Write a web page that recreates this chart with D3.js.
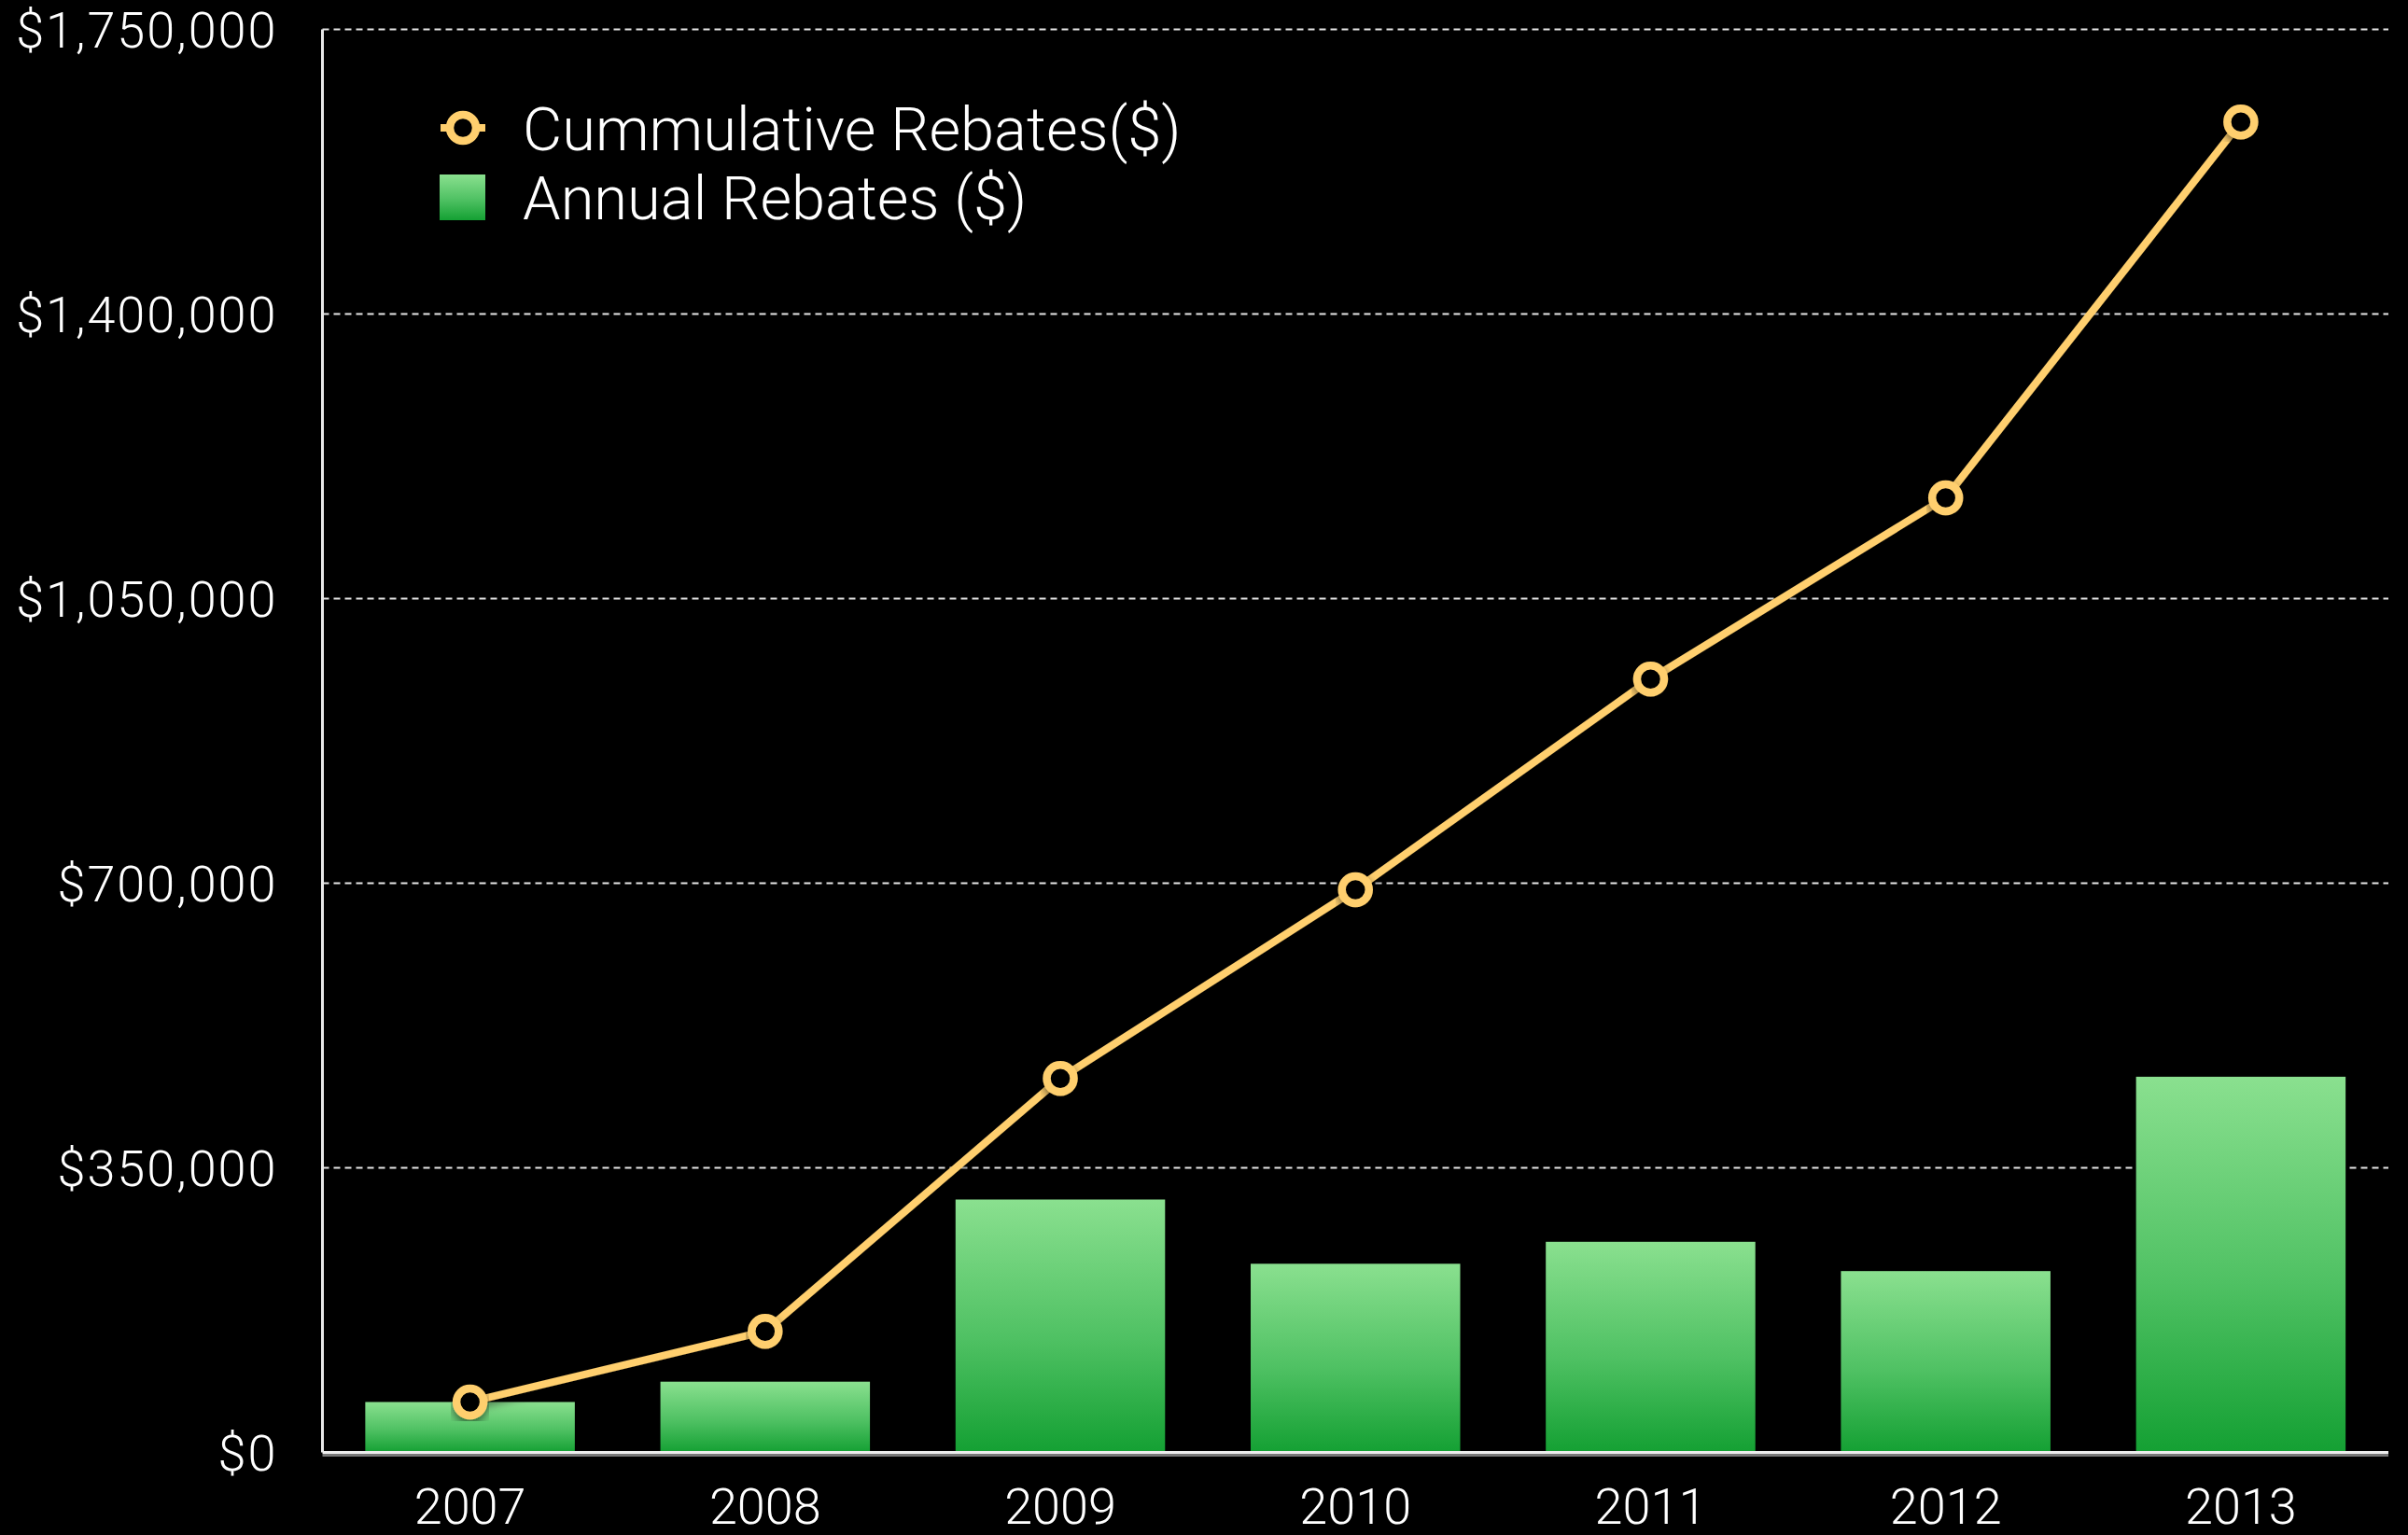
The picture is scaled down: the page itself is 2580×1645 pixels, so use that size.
<!DOCTYPE html>
<html>
<head>
<meta charset="utf-8">
<script src="https://cdn.jsdelivr.net/npm/d3@7"></script>
<style>
  html, body { margin: 0; padding: 0; background: #000; }
  svg { display: block; }
  text { font-family: Roboto, "Helvetica Neue", "Liberation Sans", sans-serif; font-weight: 300; fill: #fff; }
</style>
</head>
<body>
<script>
// ---- data ----
const years = ["2007", "2008", "2009", "2010", "2011", "2012", "2013"];
const annualRebates = [62000, 87000, 311000, 232000, 259000, 223000, 462000];
const cumulativeRebates = [62000, 149000, 460000, 692000, 951000, 1174000, 1636000];
const yTicks = [0, 350000, 700000, 1050000, 1400000, 1750000];
const legendLabels = ["Cummulative Rebates($)", "Annual Rebates ($)"];

// ---- layout ----
const W = 2580, H = 1645;
const margin = { left: 345.5, right: 21, top: 31.5, bottom: 88.5 };
const innerW = W - margin.left - margin.right;
const innerH = H - margin.top - margin.bottom;

const svg = d3.select("body").append("svg").attr("width", W).attr("height", H);
svg.append("rect").attr("width", W).attr("height", H).attr("fill", "#000");

const defs = svg.append("defs");
const grad = defs.append("linearGradient").attr("id", "barGrad")
  .attr("x1", 0).attr("y1", 0).attr("x2", 0).attr("y2", 1);
grad.append("stop").attr("offset", "0%").attr("stop-color", "#8ae08f");
grad.append("stop").attr("offset", "55%").attr("stop-color", "#4fc163");
grad.append("stop").attr("offset", "100%").attr("stop-color", "#14a033");

const shadow = defs.append("filter").attr("id", "shadow")
  .attr("x", "-20%").attr("y", "-20%").attr("width", "140%").attr("height", "140%");
shadow.append("feDropShadow").attr("dx", 0).attr("dy", 4).attr("stdDeviation", 5)
  .attr("flood-color", "#000").attr("flood-opacity", 0.55);

const g = svg.append("g").attr("transform", `translate(${margin.left},${margin.top})`);

const x = d3.scaleBand().domain(years).range([0, innerW]).paddingInner(0.29).paddingOuter(0.145);
const y = d3.scaleLinear().domain([0, 1750000]).range([innerH, 0]);

// gridlines
g.append("g").selectAll("line").data(yTicks.filter(d => d > 0)).join("line")
  .attr("x1", 0).attr("x2", innerW)
  .attr("y1", d => y(d)).attr("y2", d => y(d))
  .attr("stroke", "#e6e6e6").attr("stroke-width", 2).attr("stroke-dasharray", "7,5");

// y axis labels
const fmt = d => "$" + d3.format(",")(d);
const yAxis = d3.axisLeft(y).tickValues(yTicks).tickFormat(fmt).tickSize(0).tickPadding(48);
const ya = g.append("g").call(yAxis);
ya.select(".domain").remove();
ya.selectAll("text").attr("font-size", 54).attr("fill", "#fff")
  .attr("dy", "0.36em").attr("letter-spacing", 2)
  .attr("font-family", "Roboto, 'Helvetica Neue', sans-serif").attr("font-weight", 300);

// bars
g.append("g").selectAll("rect").data(years).join("rect")
  .attr("x", d => x(d))
  .attr("width", x.bandwidth())
  .attr("y", (d, i) => y(annualRebates[i]))
  .attr("height", (d, i) => innerH - y(annualRebates[i]))
  .attr("fill", "url(#barGrad)");

// axis lines
g.append("line").attr("x1", 0).attr("x2", 0).attr("y1", 0).attr("y2", innerH)
  .attr("stroke", "#e8e8e8").attr("stroke-width", 3);
g.append("line").attr("x1", 0).attr("x2", innerW).attr("y1", innerH + 3).attr("y2", innerH + 3)
  .attr("stroke", "#777").attr("stroke-width", 3);
g.append("line").attr("x1", 0).attr("x2", innerW).attr("y1", innerH).attr("y2", innerH)
  .attr("stroke", "#ededed").attr("stroke-width", 3);

// x axis labels
const xAxis = d3.axisBottom(x).tickSize(0).tickPadding(38);
const xa = g.append("g").attr("transform", `translate(0,${innerH})`).call(xAxis);
xa.select(".domain").remove();
xa.selectAll("text").attr("font-size", 54).attr("fill", "#fff")
  .attr("font-family", "Roboto, 'Helvetica Neue', sans-serif").attr("font-weight", 300);

// line
const lineColor = "#ffcf6e";
const line = d3.line()
  .x((d, i) => x(years[i]) + x.bandwidth() / 2)
  .y(d => y(d));
g.append("path").datum(cumulativeRebates)
  .attr("d", line).attr("fill", "none")
  .attr("stroke", lineColor).attr("stroke-width", 8)
  .attr("stroke-linejoin", "round").attr("filter", "url(#shadow)");
g.append("g").selectAll("circle").data(cumulativeRebates).join("circle")
  .attr("cx", (d, i) => x(years[i]) + x.bandwidth() / 2)
  .attr("cy", d => y(d))
  .attr("r", 14.5)
  .attr("fill", "#000")
  .attr("stroke", lineColor).attr("stroke-width", 8.5)
  .attr("filter", "url(#shadow)");

// legend
const lg = svg.append("g");
const lx = 496, ly1 = 137, ly2 = 211;
lg.append("line").attr("x1", lx - 24).attr("x2", lx + 24).attr("y1", ly1).attr("y2", ly1)
  .attr("stroke", lineColor).attr("stroke-width", 8);
lg.append("circle").attr("cx", lx).attr("cy", ly1).attr("r", 14)
  .attr("fill", "#000").attr("stroke", lineColor).attr("stroke-width", 8.5);
lg.append("rect").attr("x", 471).attr("y", 187).attr("width", 49).attr("height", 49)
  .attr("fill", "url(#barGrad)");
lg.selectAll("text").data(legendLabels).join("text")
  .attr("x", 560)
  .attr("y", (d, i) => i === 0 ? 161 : 235)
  .attr("font-size", 65)
  .text(d => d);
</script>
</body>
</html>
